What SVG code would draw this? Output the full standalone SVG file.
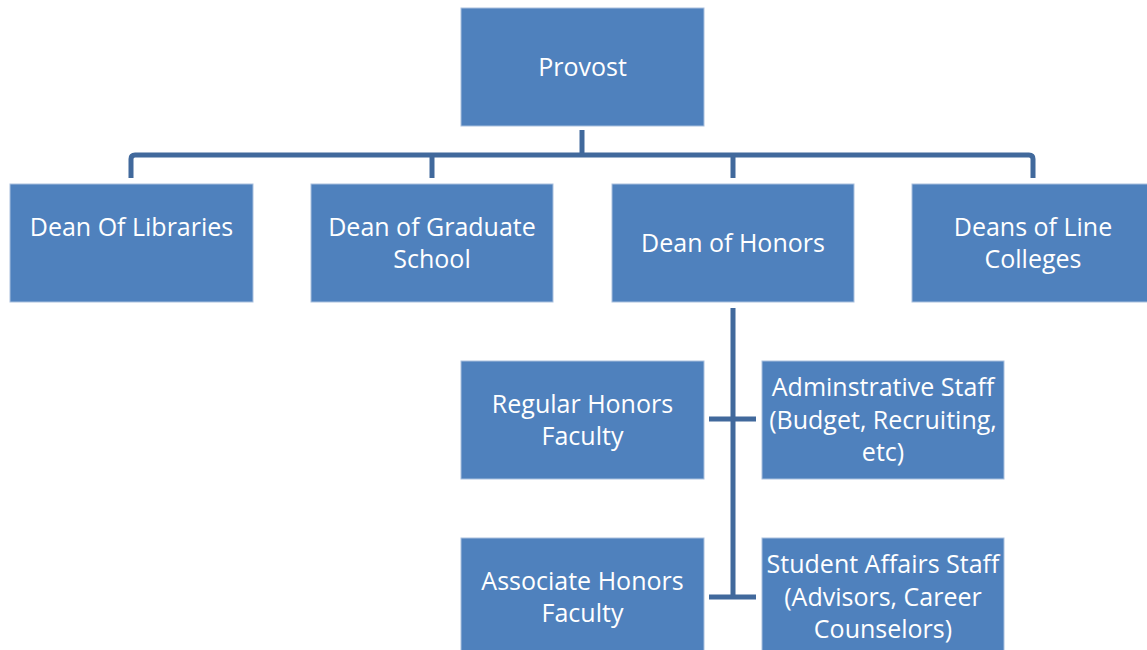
<svg xmlns="http://www.w3.org/2000/svg" width="1147" height="650" viewBox="0 0 1147 650">
<style>
.box{fill:#4F81BD;stroke:#A9C0DE;stroke-width:1}
.t{font-family:"Open Sans","Liberation Sans",sans-serif;font-size:25px;fill:#FFFFFF;text-anchor:middle}
.c{fill:none;stroke:#41699C;stroke-width:5}
</style>
<rect width="1147" height="650" fill="#FFFFFF"/>
<g id="connectors">
<path class="c" d="M582,130 V155"/>
<path class="c" d="M131,178 V159 Q131,155 135,155 H1029 Q1033,155 1033,159 V178"/>
<path class="c" d="M432,155 V178"/>
<path class="c" d="M733,155 V178"/>
<path class="c" d="M733,308 V597"/>
<path class="c" d="M709,419 H756"/>
<path class="c" d="M709,597 H756"/>
</g>
<g id="provost"><rect class="box" x="461" y="8" width="243" height="118"/><text class="t" x="582.5" y="76">Provost</text></g>
<g id="dean-libraries"><rect class="box" x="10" y="184" width="243" height="118"/><text class="t" x="131.5" y="236">Dean Of Libraries</text></g>
<g id="dean-graduate"><rect class="box" x="311" y="184" width="242" height="118"/><text class="t" x="432" y="236">Dean of Graduate</text><text class="t" x="432" y="268">School</text></g>
<g id="dean-honors"><rect class="box" x="612" y="184" width="242" height="118"/><text class="t" x="733" y="252">Dean of Honors</text></g>
<g id="deans-line"><rect class="box" x="912" y="184" width="243" height="118"/><text class="t" x="1033" y="236">Deans of Line</text><text class="t" x="1033" y="268">Colleges</text></g>
<g id="regular-faculty"><rect class="box" x="461" y="361" width="243" height="118"/><text class="t" x="582.5" y="413">Regular Honors</text><text class="t" x="582.5" y="445">Faculty</text></g>
<g id="admin-staff"><rect class="box" x="762" y="361" width="242" height="118"/><text class="t" x="883" y="396">Adminstrative Staff</text><text class="t" x="883" y="429">(Budget, Recruiting,</text><text class="t" x="883" y="461">etc)</text></g>
<g id="associate-faculty"><rect class="box" x="461" y="538" width="243" height="118"/><text class="t" x="582.5" y="590">Associate Honors</text><text class="t" x="582.5" y="622">Faculty</text></g>
<g id="student-affairs"><rect class="box" x="762" y="538" width="242" height="118"/><text class="t" x="883" y="573">Student Affairs Staff</text><text class="t" x="883" y="606">(Advisors, Career</text><text class="t" x="883" y="638">Counselors)</text></g>
</svg>
